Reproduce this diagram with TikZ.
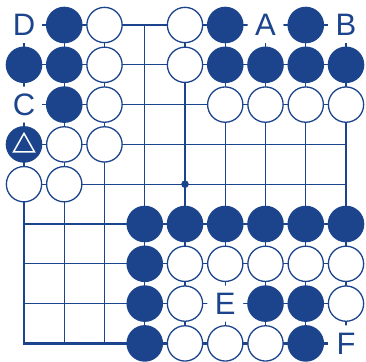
\documentclass[tikz,border=0pt]{standalone}
\usepackage{fontspec}
\newfontfamily\lab{Liberation Sans}
\definecolor{goblue}{RGB}{28,68,140}
\begin{document}
\begin{tikzpicture}[x=1pt,y=-1pt,
  gridline/.style={draw=goblue,line width=1.3pt},
  border/.style={draw=goblue,line width=2.7pt},
  bstone/.style={circle,fill=goblue,minimum size=36.6pt,inner sep=0pt},
  wstone/.style={circle,fill=white,draw=goblue,line width=1.3pt,minimum size=35.3pt,inner sep=0pt},
  lbl/.style={circle,fill=white,minimum size=36pt,inner sep=0pt,text=goblue,font=\lab\fontsize{31}{31}\selectfont},
  tri/.style={draw=white,line width=1.5pt,line join=miter}]
\useasboundingbox[fill=white] (0,0) rectangle (366,361);
\begin{scope}[shift={(-16.25,-14.8)},x=40.25pt,y=-39.8pt]
  \foreach \r in {2,...,8} \draw[gridline] (1,\r) -- (9,\r);
  \foreach \c in {2,...,8} \draw[gridline] (\c,1) -- (\c,9);
  \draw[border] (1,1) rectangle (9,9);
  \fill[goblue] (5,5) circle (3.8pt);
  \foreach \c/\r in {2/1,6/1,8/1,1/2,2/2,6/2,7/2,8/2,9/2,2/3,1/4,4/6,5/6,6/6,7/6,8/6,9/6,4/7,4/8,7/8,8/8,4/9,8/9}
    \node[bstone] (b-\c-\r) at (\c,\r) {};
  \foreach \c/\r in {3/1,5/1,3/2,5/2,3/3,6/3,7/3,8/3,9/3,2/4,3/4,1/5,2/5,5/7,6/7,7/7,8/7,9/7,5/8,9/8,5/9,6/9,7/9}
    \node[wstone] (w-\c-\r) at (\c,\r) {};
  \foreach \c/\r/\t in {1/1/D,7/1/A,9/1/B,1/3/C,6/8/E,9/9/F}
    \node[lbl] (l-\t) at (\c,\r) {\t};
  \draw[tri] ([yshift=11pt]b-1-4.center) -- ([xshift=-10.5pt,yshift=-7.5pt]b-1-4.center)
    -- ([xshift=10.5pt,yshift=-7.5pt]b-1-4.center) -- cycle;
\end{scope}
\end{tikzpicture}
\end{document}
